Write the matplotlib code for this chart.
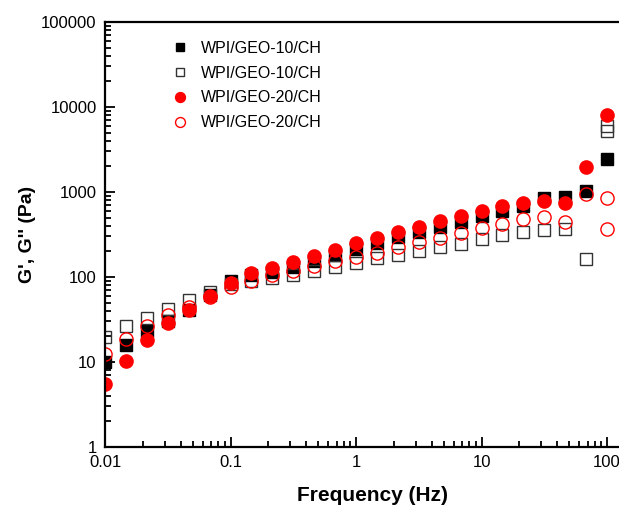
import matplotlib
matplotlib.use("Agg")
import matplotlib.pyplot as plt
import matplotlib.ticker as ticker

plt.rcParams['font.family'] = ['Liberation Sans', 'DejaVu Sans']

# frequency sweep, Hz
freq = [0.01, 0.0147, 0.0215, 0.0316, 0.0464, 0.0681,
        0.1, 0.147, 0.215, 0.316, 0.464, 0.681,
        1.0, 1.47, 2.15, 3.16, 4.64, 6.81,
        10, 14.7, 21.5, 31.6, 46.4, 68.1, 100]

# WPI/GEO-10/CH  G' (filled squares)
g1_storage = [10, 16, 23, 30, 41, 62,
              90, 105, 114, 131, 154, 181,
              216, 251, 295, 338, 387, 445,
              515, 600, 690, 850, 870, 1025, 2450]
# WPI/GEO-10/CH  G'' (open squares)
g1_loss = [19.7, 26.5, 33, 42, 54, 66,
           82, 90, 98, 105, 117, 131,
           147, 167, 182, 202, 225, 245,
           277, 311, 338, 355, 365, 163, 5200]
g1_loss_extra_x = [100]
g1_loss_extra_y = [6000]

# WPI/GEO-20/CH  G' (filled circles)
g2_storage = [5.5, 10.3, 18, 29, 41, 60,
              85, 111, 127, 150, 177, 208,
              248, 288, 338, 387, 456, 522,
              590, 690, 745, 785, 745, 1960, 8000]
# WPI/GEO-20/CH  G'' (open circles)
g2_loss = [12.4, 18.6, 26.5, 35.6, 44.5, 58,
           77, 90, 105, 117, 135, 154,
           172, 192, 225, 258, 288, 330,
           375, 417, 475, 505, 445, 950, 850]
g2_loss_extra_x = [100]
g2_loss_extra_y = [365]

labels = ["WPI/GEO-10/CH", "WPI/GEO-10/CH", "WPI/GEO-20/CH", "WPI/GEO-20/CH"]

fig = plt.figure(figsize=(6.19, 5.07), dpi=100)
ax = fig.add_axes([105/619, 60/507, 535/619, 425/507])

red = "#ff0000"
ax.plot(freq, g1_storage, "s", color="black", ms=8.5, label=labels[0])
ax.plot(freq, g1_loss, "s", mfc="none", mec="#333333", mew=1.0, ms=8.5, label=labels[1])
ax.plot(g1_loss_extra_x, g1_loss_extra_y, "s", mfc="none", mec="#333333", mew=1.0, ms=8.5)
ax.plot(freq, g2_storage, "o", color=red, ms=9.5, label=labels[2])
ax.plot(freq, g2_loss, "o", mfc="none", mec=red, mew=1.0, ms=9.5, label=labels[3])
ax.plot(g2_loss_extra_x, g2_loss_extra_y, "o", mfc="none", mec=red, mew=1.0, ms=9.5)

ax.set_xscale("log")
ax.set_yscale("log")
ax.set_xlim(0.01, 10 ** (-2 + 535 / 125.5))
ax.set_ylim(1, 100000)

ax.xaxis.set_major_locator(ticker.LogLocator(base=10, numticks=10))
ax.xaxis.set_minor_locator(ticker.LogLocator(base=10, subs=range(2, 10), numticks=10))
ax.yaxis.set_major_locator(ticker.LogLocator(base=10, numticks=10))
ax.yaxis.set_minor_locator(ticker.LogLocator(base=10, subs=range(2, 10), numticks=10))
ax.xaxis.set_major_formatter(ticker.FuncFormatter(lambda v, p: "%g" % v))
ax.yaxis.set_major_formatter(ticker.FuncFormatter(lambda v, p: "%d" % v))

ax.tick_params(which="both", direction="in", labelsize=12, width=1.3, top=False, right=False)
ax.tick_params(which="major", length=7, pad=6)
ax.tick_params(which="minor", length=4)
for s in ["left", "bottom", "top"]:
    ax.spines[s].set_linewidth(1.6)
ax.spines["right"].set_visible(False)

ax.set_xlabel("Frequency (Hz)", fontsize=15, fontweight="bold", labelpad=11)
ax.set_ylabel("G', G'' (Pa)", fontsize=14, fontweight="bold", labelpad=4)

ax.legend(loc="upper left", bbox_to_anchor=(0.095, 0.99), frameon=False,
          fontsize=11.5, markerscale=0.75, handletextpad=0.75, labelspacing=0.62,
          handlelength=1.2)

fig.savefig("out.png", dpi=100)
